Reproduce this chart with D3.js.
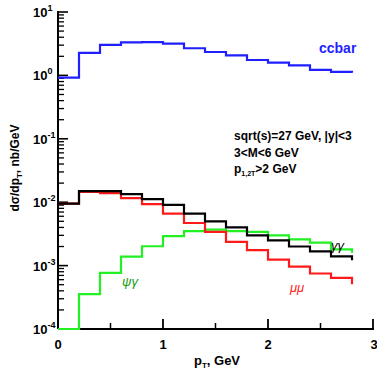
<!DOCTYPE html>
<html>
<head>
<meta charset="utf-8">
<script src="https://cdn.jsdelivr.net/npm/d3@7"></script>
<style>
  body { margin: 0; background: #fff; }
  text { font-family: "Liberation Sans", Arial, sans-serif; }
</style>
</head>
<body>
<div id="chart"></div>
<script>
// bin edges, GeV (last entry = closing edge of the histogram)
const binEdges = [0, 0.2, 0.4, 0.6, 0.8, 1.0, 1.2, 1.4, 1.6, 1.8, 2.0, 2.2, 2.4, 2.6, 2.8];

// values per bin; the last number is where each curve drops at the closing edge
const ccbar = [0.92, 2.26, 3.02, 3.32, 3.36, 3.16, 2.68, 2.34, 2.07, 1.75, 1.59, 1.44, 1.22, 1.14, 1.10];
const gammaGamma = [0.0095, 0.0149, 0.0149, 0.0134, 0.0112, 0.0091, 0.0066, 0.0050, 0.0040, 0.0030, 0.0025, 0.0020, 0.00168, 0.00140, 0.00122];
const muMu = [0.0095, 0.0145, 0.0139, 0.0116, 0.0093, 0.0066, 0.0047, 0.0034, 0.00236, 0.00175, 0.00124, 0.00096, 0.00075, 0.00064, 0.00051];
const psiGamma = [0.0001, 0.000356, 0.00077, 0.00139, 0.00202, 0.00292, 0.0035, 0.0037, 0.0035, 0.0034, 0.0030, 0.0026, 0.0023, 0.0018, 0.00159];

const xTicks = [0, 1, 2, 3];
const xMinorTicks = [0.5, 1.5, 2.5];
const yDecades = [-4, -3, -2, -1, 0, 1];

const width = 377, height = 372;
const x = d3.scaleLinear().domain([0, 3]).range([58, 373]);
const y = d3.scaleLog().domain([1e-4, 1e1]).range([329, 12]);

const svg = d3.select('#chart').append('svg')
	.attr('width', width)
	.attr('height', height);

// ******** axes ******** //
const axes = svg.append('g').attr('stroke', '#000');
axes.append('line')
	.attr('x1', x(0)).attr('x2', x(0))
	.attr('y1', y(1e1) - 1).attr('y2', y(1e-4))
	.attr('stroke-width', 2);
axes.append('line')
	.attr('x1', x(0)).attr('x2', x(3) + 1)
	.attr('y1', y(1e-4)).attr('y2', y(1e-4))
	.attr('stroke-width', 2);

// y ticks, majors at decades, minors at 2..9
yDecades.forEach(p => {
	const v = Math.pow(10, p);
	axes.append('line')
		.attr('x1', x(0)).attr('x2', x(0) + 10)
		.attr('y1', y(v)).attr('y2', y(v))
		.attr('stroke-width', 1.6);
	if (p < 1) {
		for (let k = 2; k < 10; k++) {
			axes.append('line')
				.attr('x1', x(0)).attr('x2', x(0) + 6)
				.attr('y1', y(k * v)).attr('y2', y(k * v))
				.attr('stroke-width', 1.3);
		}
	}
});

xTicks.forEach(t => {
	axes.append('line')
		.attr('x1', x(t)).attr('x2', x(t))
		.attr('y1', y(1e-4)).attr('y2', y(1e-4) - 10)
		.attr('stroke-width', 1.8);
});
xMinorTicks.forEach(t => {
	axes.append('line')
		.attr('x1', x(t)).attr('x2', x(t))
		.attr('y1', y(1e-4)).attr('y2', y(1e-4) - 6)
		.attr('stroke-width', 1.5);
});

// ******** histograms ******** //
const step = d3.line()
	.x((d, i) => x(binEdges[i]))
	.y(d => y(d))
	.curve(d3.curveStepAfter);

const series = [
	[ccbar, '#1f1fff'],
	[psiGamma, '#22f022'],
	[muMu, '#ff1a1a'],
	[gammaGamma, '#000000']
];
series.forEach(s => {
	svg.append('path')
		.datum(s[0])
		.attr('fill', 'none')
		.attr('stroke', s[1])
		.attr('stroke-width', 2.2)
		.attr('d', step);
});

// tick labels
svg.append('g').selectAll('text')
	.data(xTicks)
	.enter().append('text')
		.attr('x', d => x(d) + (d === 3 ? 1 : 0))
		.attr('y', 349)
		.attr('text-anchor', 'middle')
		.style('font-size', '13px')
		.style('font-weight', 'bold')
		.text(d => d);

const yl = svg.append('g').selectAll('text')
	.data(yDecades)
	.enter().append('text')
		.attr('x', 33)
		.attr('y', d => y(Math.pow(10, d)) + 5)
		.style('font-size', '13px')
		.style('font-weight', 'bold');
yl.append('tspan').text('10');
yl.append('tspan')
	.attr('dy', -6)
	.style('font-size', '9px')
	.text(d => d);

// axis titles
const xt = svg.append('text')
	.attr('x', 217)
	.attr('y', 365)
	.attr('text-anchor', 'middle')
	.style('font-size', '13px')
	.style('font-weight', 'bold');
xt.append('tspan').text('p');
xt.append('tspan').attr('dy', 3).style('font-size', '8px').text('T');
xt.append('tspan').attr('dy', -3).text(', GeV');

const yt = svg.append('text')
	.attr('transform', 'translate(19,168) rotate(-90)')
	.attr('text-anchor', 'middle')
	.style('font-size', '12px')
	.style('font-weight', 'bold');
yt.append('tspan').text('dσ/dp');
yt.append('tspan').attr('dy', 3).style('font-size', '8px').text('T');
yt.append('tspan').attr('dy', -3).text(', nb/GeV');

// ******** annotations ******** //
const info = svg.append('g')
	.style('font-size', '12px')
	.style('font-weight', 'bold');
info.append('text').attr('x', 234).attr('y', 140).text('sqrt(s)=27 GeV, |y|<3');
info.append('text').attr('x', 234).attr('y', 157).text('3<M<6 GeV');
const pt = info.append('text').attr('x', 234).attr('y', 173);
pt.append('tspan').text('p');
pt.append('tspan').attr('dy', 3).style('font-size', '7px').text('1,2T');
pt.append('tspan').attr('dy', -3).text('>2 GeV');

svg.append('text')
	.attr('x', 319).attr('y', 53)
	.style('font-size', '14px')
	.style('font-weight', 'bold')
	.style('fill', '#1f1fff')
	.text('ccbar');

svg.append('text')
	.attr('x', 122).attr('y', 286)
	.style('font-size', '13px')
	.style('font-style', 'italic')
	.style('fill', '#119911')
	.text('ψγ');

svg.append('text')
	.attr('x', 290).attr('y', 292)
	.style('font-size', '13px')
	.style('font-style', 'italic')
	.style('fill', '#ff1a1a')
	.text('μμ');

svg.append('text')
	.attr('x', 331).attr('y', 250)
	.style('font-size', '13px')
	.style('font-style', 'italic')
	.style('fill', '#000')
	.text('γγ');
</script>
</body>
</html>
